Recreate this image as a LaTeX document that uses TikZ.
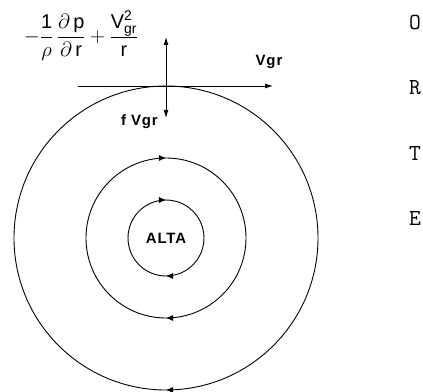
\documentclass[tikz,border=0pt]{standalone}
\usepackage{fontspec}
\setsansfont{Liberation Sans}
\newfontfamily\handfont{Liberation Sans}[LetterSpace=6, UprightFont=* Bold]
\usetikzlibrary{arrows.meta, positioning, decorations.markings}
\tikzset{
    ring/.style={draw=black, line width=0.9bp},
    clockwise/.style={postaction={decorate}, decoration={markings,
        mark=at position 0.25 with {\arrowreversed{Latex[length=7bp,width=6bp]}},
        mark=at position 0.75 with {\arrowreversed{Latex[length=7bp,width=6bp]}}}},
    lowarrow/.style={postaction={decorate}, decoration={markings,
        mark=at position 0.75 with {\arrowreversed{Latex[length=7bp,width=6bp]}}}},
    arrow/.style={-{Latex[length=8bp,width=5bp]}, line width=0.9bp},
    lbl/.style={font=\handfont\fontsize{15}{15}\selectfont, inner sep=0pt},
    letter/.style={font=\ttfamily\fontsize{23}{23}\selectfont, inner sep=0pt}
}

\begin{document}
\begin{tikzpicture}[x=1bp, y=1bp]
    \useasboundingbox (0,0) rectangle (423,392);
    % isobars round the high
    \coordinate (c) at (166,154);
    \draw[ring, lowarrow] (c) circle[radius=152bp];
    \draw[ring, clockwise] (c) circle[radius=80bp];
    \draw[ring, clockwise] (c) circle[radius=38bp];
    \node[lbl] (alta) at (c) {ALTA};
    % forces on the parcel
    \coordinate (top) at (166,306);
    \coordinate (west) at (78,306);
    \coordinate (east) at (273,306);
    \coordinate (up) at (166,355);
    \coordinate (down) at (166,274);
    \draw[ring] (west) -- (top);
    \draw[arrow] (top) -- (east);
    \draw[arrow] (top) -- (up);
    \draw[arrow] (top) -- (down);
    \node[lbl] (vgr) at (269,330) {Vgr};
    \node[lbl, anchor=east] (coriolis) at (158,270) {f Vgr};
    \node[inner sep=0pt, font=\fontsize{20}{22}\selectfont] (pgrad) at (81,356)
        {$\displaystyle -\frac{\mathsf{1}}{\rho}\,\frac{\partial\,\mathsf{p}}{\partial\,\mathsf{r}}
        +\frac{\mathsf{V}^{\mathsf{2}}_{\mathsf{gr}}}{\mathsf{r}}$};
    % margin letters
    \node[letter] (l1) at (415,370) {O};
    \node[letter] (l2) at (415,304) {R};
    \node[letter] (l3) at (415,239) {T};
    \node[letter] (l4) at (415,174) {E};
\end{tikzpicture}
\end{document}
